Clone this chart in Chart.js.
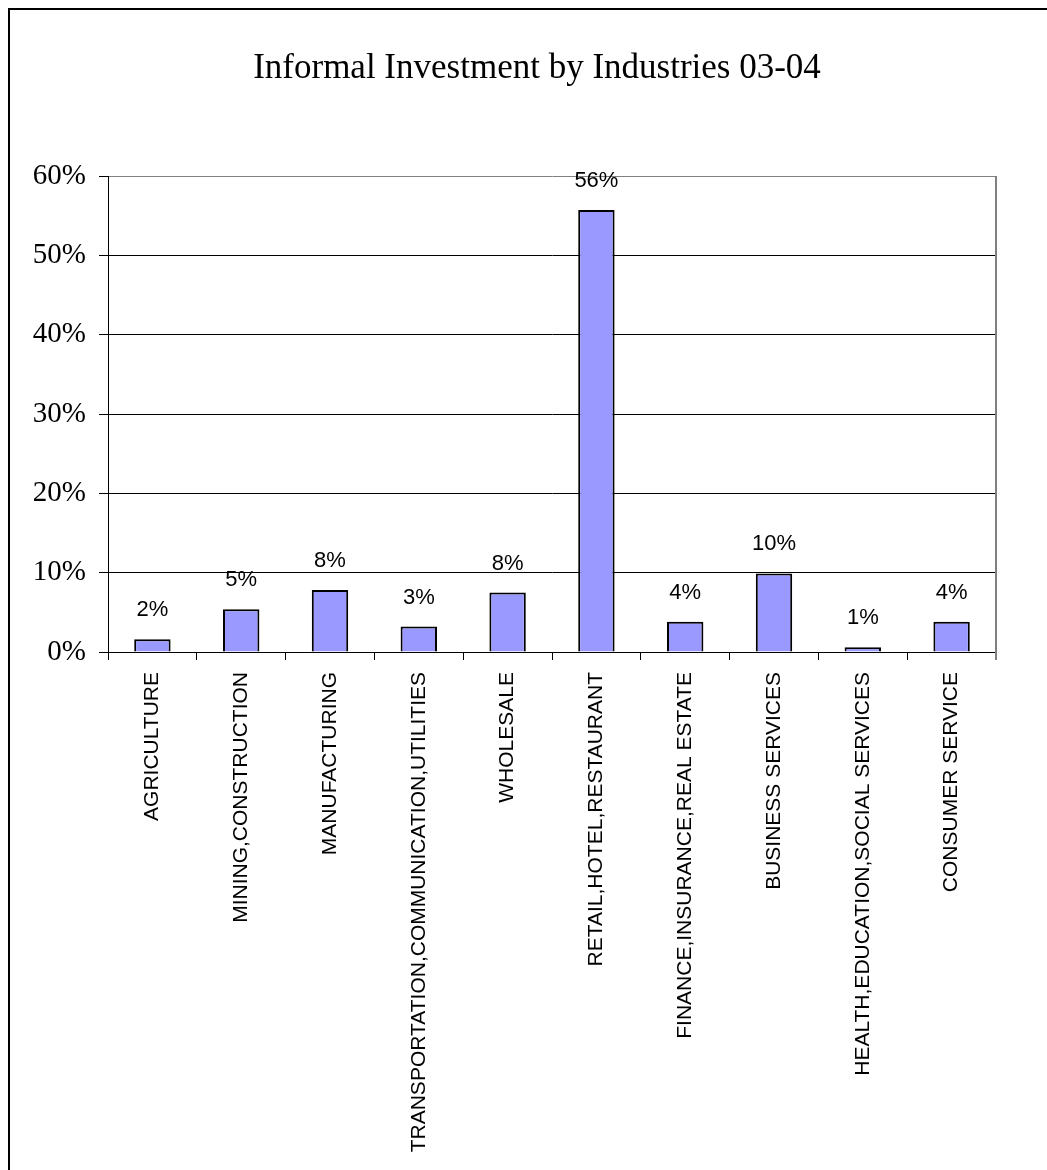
<!DOCTYPE html>
<html>
<head>
<meta charset="utf-8">
<script src="https://cdn.jsdelivr.net/npm/chart.js@4.4.1/dist/chart.umd.min.js"></script>
<style>
  body { margin: 0; background: #fff; }
</style>
</head>
<body>
<canvas id="myBarChart" width="1047" height="1170"></canvas>
<script>
let industries = [
  "AGRICULTURE",
  "MINING,CONSTRUCTION",
  "MANUFACTURING",
  "TRANSPORTATION,COMMUNICATION,UTILITIES",
  "WHOLESALE",
  "RETAIL,HOTEL,RESTAURANT",
  "FINANCE,INSURANCE,REAL ESTATE",
  "BUSINESS SERVICES",
  "HEALTH,EDUCATION,SOCIAL SERVICES",
  "CONSUMER SERVICE",
];
// share of informal investment, percent
let shareValues = [1.6, 5.4, 7.8, 3.2, 7.5, 55.7, 3.8, 9.9, 0.6, 3.8];
let yTicks = [0, 10, 20, 30, 40, 50, 60];

let chartTitle = "Informal Investment by Industries 03-04";

// white page, frame line on left/top, title
const framePlugin = {
  id: "frame",
  beforeDraw(chart) {
    let ctx = chart.ctx;
    ctx.save();
    ctx.fillStyle = "#fff";
    ctx.fillRect(0, 0, chart.width, chart.height);
    ctx.strokeStyle = "#000";
    ctx.lineWidth = 2;
    ctx.beginPath();
    ctx.moveTo(9, chart.height);
    ctx.lineTo(9, 9);
    ctx.lineTo(chart.width, 9);
    ctx.stroke();

    ctx.fillStyle = "#000";
    ctx.font = "35px 'Liberation Serif', 'Times New Roman', serif";
    ctx.textAlign = "center";
    ctx.textBaseline = "alphabetic";
    ctx.fillText(chartTitle, 537, 78);
    ctx.restore();
  },
  afterDraw(chart) {
    // gray right edge of plot area
    let ctx = chart.ctx;
    let area = chart.chartArea;
    ctx.save();
    ctx.strokeStyle = "#808080";
    ctx.lineWidth = 2;
    ctx.beginPath();
    ctx.moveTo(Math.round(area.right), area.top);
    ctx.lineTo(Math.round(area.right), area.bottom + 8);
    ctx.stroke();
    ctx.restore();
  },
};

// percent labels over the bars
const valueLabels = {
  id: "valueLabels",
  afterDatasetsDraw(chart) {
    let ctx = chart.ctx;
    let meta = chart.getDatasetMeta(0);
    ctx.save();
    ctx.font = "22px 'Liberation Sans', Arial, sans-serif";
    ctx.fillStyle = "#000";
    ctx.textAlign = "center";
    ctx.textBaseline = "alphabetic";
    for (let i = 0; i < meta.data.length; i++) {
      let bar = meta.data[i];
      ctx.fillText(Math.round(shareValues[i]) + "%", bar.x, bar.y - 23);
    }
    ctx.restore();
  },
};

let chart1 = document.getElementById("myBarChart").getContext("2d");

const myChart1 = new Chart(chart1, {
  type: "bar",
  data: {
    labels: industries,
    datasets: [
      {
        data: shareValues,
        backgroundColor: "#9999FF",
        borderColor: "#000",
        borderWidth: 2,
        barPercentage: 0.41,
        categoryPercentage: 1,
      },
    ],
  },
  options: {
    responsive: false,
    animation: false,
    layout: {
      padding: { left: 28, right: 51, top: 176, bottom: 0 },
    },
    plugins: {
      legend: { display: false },
      tooltip: { enabled: false },
      title: { display: false },
    },
    scales: {
      x: {
        afterFit(scale) {
          scale.height = 518;
        },
        border: { color: "#000", width: 1 },
        grid: {
          offset: true,
          drawOnChartArea: false,
          drawTicks: true,
          tickLength: 8,
          color: "#000",
        },
        ticks: {
          color: "#000",
          font: { family: "'Liberation Sans', Arial, sans-serif", size: 21 },
          minRotation: 90,
          maxRotation: 90,
          autoSkip: false,
          padding: 12,
        },
      },
      y: {
        min: 0,
        max: 60,
        afterFit(scale) {
          scale.width = 80;
        },
        afterBuildTicks(scale) {
          scale.ticks = yTicks.map((v) => ({ value: v }));
        },
        border: { color: "#000", width: 1 },
        grid: {
          color: (c) => (c.tick && c.tick.value === 60 ? "#808080" : "#000"),
          tickColor: "#000",
          tickLength: 9,
          lineWidth: 1,
        },
        ticks: {
          color: "#000",
          font: { family: "'Liberation Serif', 'Times New Roman', serif", size: 29 },
          padding: 13,
          callback: (v) => v + "%",
        },
      },
    },
  },
  plugins: [framePlugin, valueLabels],
});
</script>
</body>
</html>
